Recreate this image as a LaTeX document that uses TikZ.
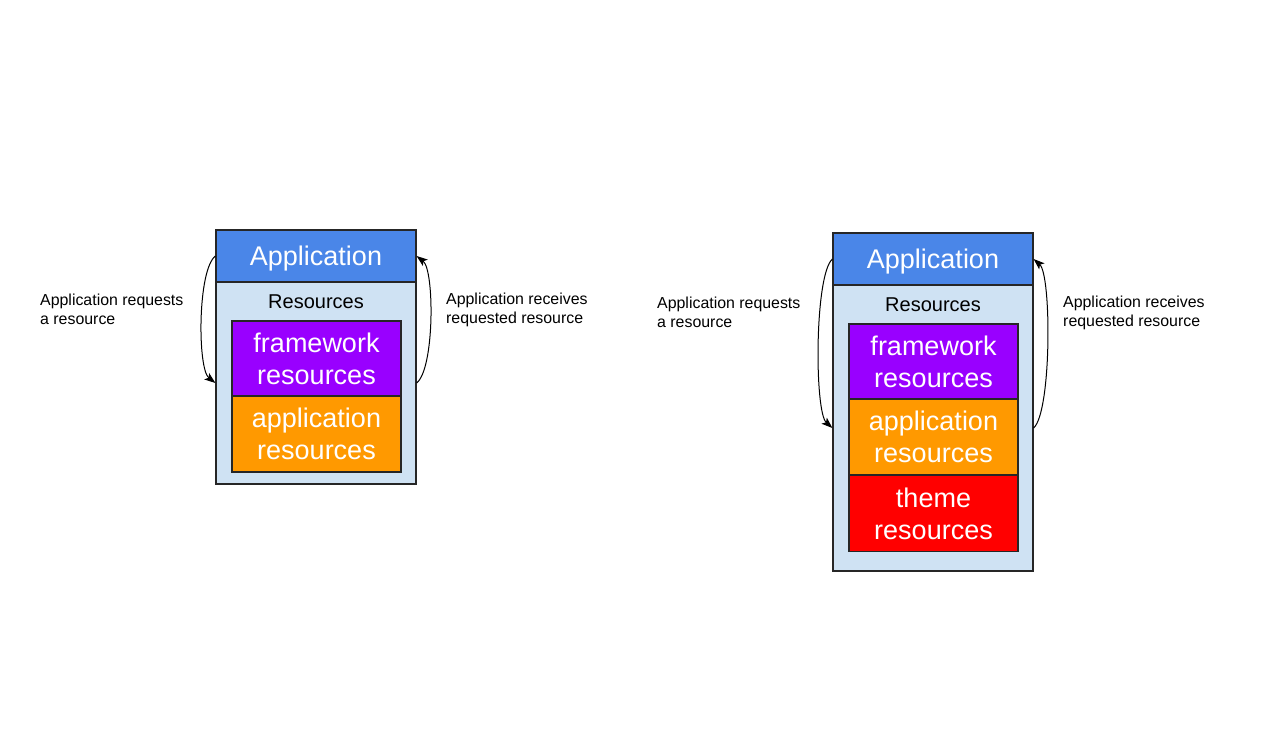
\documentclass[tikz,border=0pt]{standalone}
\usepackage{fontspec}
\setmainfont{Liberation Sans}
\usetikzlibrary{arrows.meta}
\definecolor{AppBlue}{HTML}{4A86E8}
\definecolor{ResBlue}{HTML}{CFE2F3}
\definecolor{FwPurple}{HTML}{9900FF}
\definecolor{AppOrange}{HTML}{FF9900}
\definecolor{ThemeRed}{HTML}{FF0000}

\begin{document}
\begin{tikzpicture}[x=1pt,y=-1pt,
  box/.style={draw=black!85,line width=1.2pt,inner sep=0pt,minimum width=200pt},
  head/.style={box,fill=AppBlue,minimum height=52pt,text=white,text depth=-2pt,font=\fontsize{27}{32}\selectfont},
  layer/.style={draw=black!85,line width=1.2pt,inner sep=0pt,minimum width=169pt,minimum height=76pt,
    text=white,align=center,font=\fontsize{27}{32}\selectfont},
  note/.style={inner sep=0pt,align=left,anchor=west,font=\fontsize{15.9}{19}\selectfont},
  flow/.style={line width=1pt,-{Stealth[length=11pt,width=8pt,inset=2.5pt]}}]

\useasboundingbox (0,0) rectangle (1280,737);

% left stack
\node[box,fill=ResBlue,minimum height=202pt] (L-res) at (316,383) {};
\node[head] (L-app) at (316,256) {Application};
\node[font=\fontsize{20}{24}\selectfont] (L-lab) at (316,302) {Resources};
\node[layer,fill=FwPurple] (L-fw) at (316.5,359) {framework\\resources};
\node[layer,fill=AppOrange] (L-ar) at (316.5,434) {application\\resources};

\node[note] (L-req) at (40,309.5) {Application requests\\a resource};
\node[note] (L-rcv) at (446,309.5) {Application receives\\requested resource};

\draw[flow] (L-app.west) .. controls +(-18,14) and +(-18,-14) .. (L-res.west);
\draw[flow] (L-res.east) .. controls +(18,-14) and +(18,14) .. (L-app.east);

% right stack
\node[box,fill=ResBlue,minimum height=286pt] (R-res) at (933,428) {};
\node[head] (R-app) at (933,259) {Application};
\node[font=\fontsize{20}{24}\selectfont] (R-lab) at (933,305) {Resources};
\node[layer,fill=FwPurple] (R-fw) at (933.5,362) {framework\\resources};
\node[layer,fill=AppOrange] (R-ar) at (933.5,437) {application\\resources};
\node[layer,fill=ThemeRed] (R-th) at (933.5,513.5) {theme\\resources};

\node[note] (R-req) at (657,312.5) {Application requests\\a resource};
\node[note] (R-rcv) at (1063,312.5) {Application receives\\requested resource};

\draw[flow] (R-app.west) .. controls +(-18,16) and +(-18,-16) .. (R-res.west);
\draw[flow] (R-res.east) .. controls +(18,-16) and +(18,16) .. (R-app.east);

\end{tikzpicture}
\end{document}
